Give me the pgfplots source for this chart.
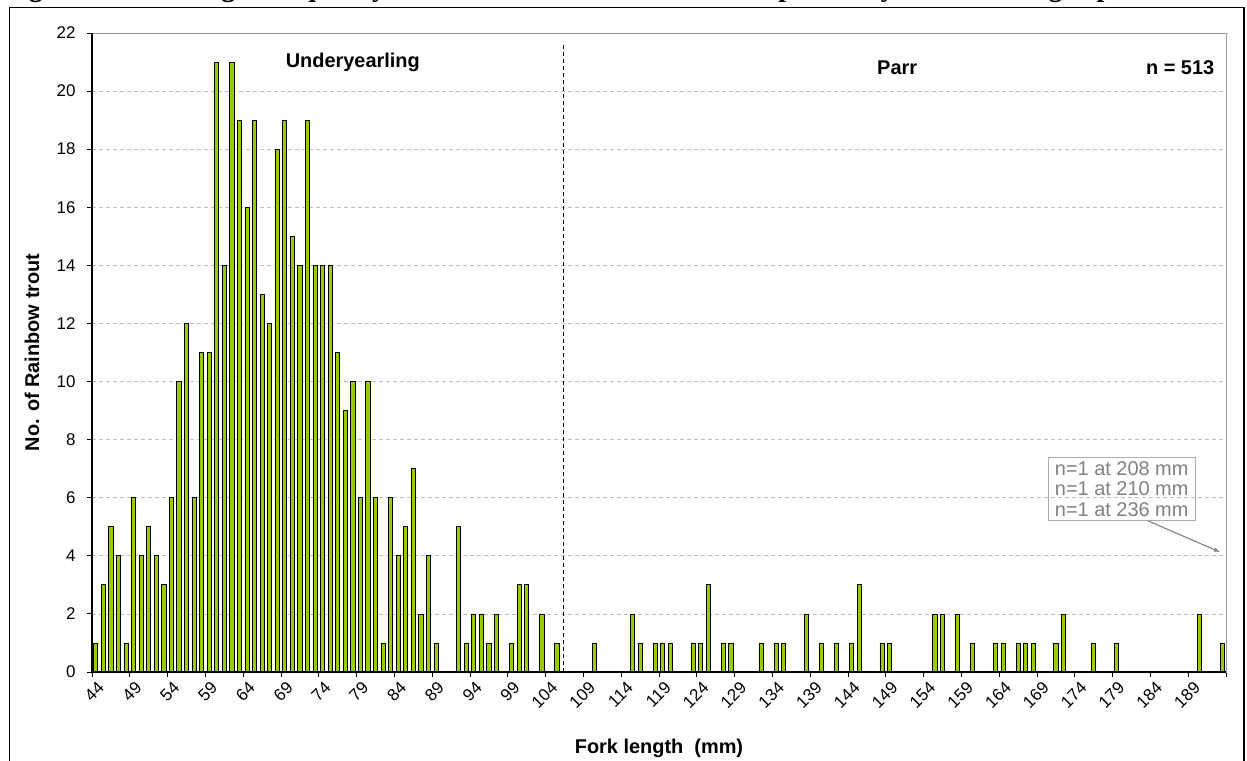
\documentclass[border=0pt]{standalone}
\usepackage{fontspec}
\setmainfont{Liberation Sans}
\newfontfamily\titlefont{Liberation Serif}
\usepackage{pgfplots}
\usepackage{pgfplotstable}
\pgfplotsset{compat=1.18}
\definecolor{bargreen}{RGB}{153,204,0}
\definecolor{gridgray}{RGB}{192,192,192}
\definecolor{boxgray}{RGB}{128,128,128}
\definecolor{framegray}{RGB}{150,150,150}

\pgfplotstableread{
len count
44 1
45 3
46 5
47 4
48 1
49 6
50 4
51 5
52 4
53 3
54 6
55 10
56 12
57 6
58 11
59 11
60 21
61 14
62 21
63 19
64 16
65 19
66 13
67 12
68 18
69 19
70 15
71 14
72 19
73 14
74 14
75 14
76 11
77 9
78 10
79 6
80 10
81 6
82 1
83 6
84 4
85 5
86 7
87 2
88 4
89 1
92 5
93 1
94 2
95 2
96 1
97 2
99 1
100 3
101 3
103 2
105 1
110 1
115 2
116 1
118 1
119 1
120 1
123 1
124 1
125 3
127 1
128 1
132 1
134 1
135 1
138 2
140 1
142 1
144 1
145 3
148 1
149 1
155 2
156 2
158 2
160 1
163 1
164 1
166 1
167 1
168 1
171 1
172 2
176 1
179 1
190 2
193 1
}\datatable

\newcommand\tickfont{\fontsize{17}{19}\selectfont}
\newcommand\annfont{\bfseries\fontsize{20}{22}\selectfont}

\begin{document}
\begin{tikzpicture}[x=1bp,y=1bp]
\useasboundingbox (0,0) rectangle (1247,761);
\node[anchor=base west, inner sep=0, font=\titlefont\bfseries\fontsize{28}{30}\selectfont] at (4,764)
  {Figure 5. Fork length frequency distribution of Rainbow trout captured by electrofishing, April 2009};
\draw[line width=1.6bp] (9.5,-20) -- (9.5,753.5) -- (1244,753.5) -- (1244,-20);
\begin{axis}[
  at={(92bp,89bp)}, anchor=south west,
  scale only axis, width=1134bp, height=639bp,
  xmin=43.5, xmax=193.5, ymin=0, ymax=22,
  ytick={0,2,...,22},
  xtick={43.5,48.5,53.5,58.5,63.5,68.5,73.5,78.5,83.5,88.5,93.5,98.5,103.5,108.5,113.5,118.5,123.5,128.5,133.5,138.5,143.5,148.5,153.5,158.5,163.5,168.5,173.5,178.5,183.5,188.5,193.5},
  xticklabels={44,49,54,59,64,69,74,79,84,89,94,99,104,109,114,119,124,129,134,139,144,149,154,159,164,169,174,179,184,189,{}},
  /pgf/number format/assume math mode=true,
  tick label style={font=\tickfont},
  xticklabel style={rotate=45, anchor=east, xshift=4bp, yshift=-12bp},
  yticklabel style={anchor=east, xshift=-8bp},
  tick align=outside, major tick length=5bp,
  xtick pos=bottom, ytick pos=left,
  tick style={black, line width=0.9bp},
  axis line style={framegray, line width=0.8bp},
  ymajorgrids,
  major grid style={gridgray, line width=0.8bp, dash pattern=on 4bp off 3bp},
  xlabel={Fork length\ \ (mm)},
  ylabel={No. of Rainbow trout},
  label style={font=\annfont},
  xlabel style={at={(axis description cs:0.5,-0.119)}, anchor=center},
  ylabel style={at={(axis description cs:-0.053,0.5)}, anchor=center},
  clip=false,
]
\addplot[ybar, bar width=0.55, fill=bargreen, draw=black, line width=0.8bp] table[x=len,y=count] {\datatable};
\addplot[black, line width=1.1bp, dash pattern=on 4bp off 3bp] coordinates {(105.84,0) (105.84,21.6)};
\draw[black, line width=1.2bp] (rel axis cs:0,1) -- (rel axis cs:0,0) -- (rel axis cs:1,0);
\node[font=\annfont] at (axis cs:78.0,21.0) {Underyearling};
\node[font=\annfont] at (axis cs:150.0,20.8) {Parr};
\node[font=\annfont, anchor=east] at (axis cs:192.4,20.8) {n = 513};
\node[draw=framegray!80, text=boxgray, align=left, font=\fontsize{20}{20.5}\selectfont, inner xsep=7bp, inner ysep=4bp, anchor=center]
  at (axis cs:179.7,6.3) {n=1 at 208 mm\\n=1 at 210 mm\\n=1 at 236 mm};
\draw[-latex, boxgray, line width=1.1bp] (axis cs:183.2,5.2) -- (axis cs:192.7,4.13);
\end{axis}
\end{tikzpicture}
\end{document}
